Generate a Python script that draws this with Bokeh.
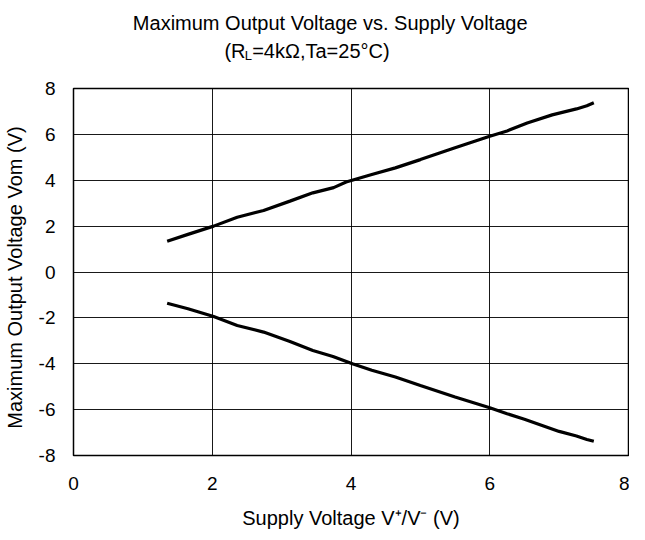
from bokeh.plotting import figure
from bokeh.layouts import column
from bokeh.models import Range1d, FixedTicker, PrintfTickFormatter
from bokeh.core.properties import value
from bokeh.embed import file_html
from bokeh.resources import INLINE

# Data
supply_upper = [1.35, 1.65, 2.02, 2.36, 2.74, 3.12, 3.45, 3.75, 3.93, 4.3, 4.64, 5.0, 5.5, 6.0, 6.25, 6.54, 6.9, 7.25, 7.4, 7.5]
vom_upper = [1.34, 1.64, 2.0, 2.39, 2.68, 3.09, 3.45, 3.68, 3.92, 4.25, 4.54, 4.9, 5.42, 5.92, 6.15, 6.5, 6.85, 7.11, 7.25, 7.38]
supply_lower = [1.35, 1.65, 2.02, 2.36, 2.74, 3.12, 3.45, 3.74, 4.02, 4.3, 4.64, 5.0, 5.5, 6.0, 6.25, 6.5, 7.0, 7.25, 7.4, 7.5]
vom_lower = [-1.36, -1.6, -1.94, -2.33, -2.62, -3.03, -3.42, -3.68, -4.0, -4.28, -4.58, -4.95, -5.45, -5.92, -6.18, -6.42, -6.95, -7.15, -7.3, -7.38]
x_ticks = [0, 2, 4, 6, 8]
y_ticks = [-8, -6, -4, -2, 0, 2, 4, 6, 8]

title_line1 = "Maximum Output Voltage vs. Supply Voltage"
title_line2 = ["(R", "L", "=4k\u03a9,Ta=25\u00b0C)"]

FONT = "Liberation Sans"
FS = "20px"
W = 629
TOP_H = 70

# ---- title strip (separate figure so text is not clipped; its frame aligns with the chart frame) ----
top = figure(width=W, height=TOP_H, output_backend="svg", toolbar_location=None,
             x_range=Range1d(0, 8), y_range=Range1d(0, TOP_H),
             x_axis_type=None, y_axis_type=None,
             min_border_left=0, min_border_right=0, min_border_top=0, min_border_bottom=0,
             outline_line_color=None, title=None)
top.grid.visible = False
common = dict(text_font=value(FONT), text_baseline="middle", text_color="black")
top.text(x=[3.70], y=[48], text=[title_line1], text_align="center",
         text_font_size=value(FS), **common)
top.text(x=[2.48], y=[20], text=[title_line2[0]], text_align="right",
         text_font_size=value(FS), **common)
top.text(x=[2.47], y=[15], text=[title_line2[1]], text_align="left",
         text_font_size=value("13px"), **common)
top.text(x=[2.575], y=[20], text=[title_line2[2]], text_align="left",
         text_font_size=value(FS), **common)

# ---- main chart ----
p = figure(width=W, height=462, output_backend="svg", toolbar_location=None,
           x_range=Range1d(0, 8), y_range=Range1d(-8, 8), title=None,
           min_border_left=66, min_border_right=1, min_border_top=18, min_border_bottom=77)
p.background_fill_color = "white"
p.border_fill_color = "white"
p.outline_line_color = "black"
p.outline_line_width = 1.5

for ax in (p.xaxis[0], p.yaxis[0]):
    ax.axis_line_color = None
    ax.major_tick_line_color = None
    ax.minor_tick_line_color = None
    ax.major_label_text_font = FONT
    ax.major_label_text_font_size = "19px"
    ax.major_label_text_color = "black"
    ax.axis_label_text_font = FONT
    ax.axis_label_text_font_size = FS
    ax.axis_label_text_font_style = "normal"
    ax.axis_label_text_color = "black"
    ax.formatter = PrintfTickFormatter(format="%d")

p.xaxis.ticker = FixedTicker(ticks=x_ticks)
p.yaxis.ticker = FixedTicker(ticks=y_ticks)
p.xaxis.major_label_standoff = 15
p.yaxis.major_label_standoff = 12
p.xaxis.axis_label = "Supply Voltage V\u207a/V\u207b (V)"
p.xaxis.axis_label_standoff = 14
p.yaxis.axis_label = "Maximum Output Voltage   Vom (V)"
p.yaxis.axis_label_standoff = 10

p.xgrid.ticker = FixedTicker(ticks=x_ticks)
p.ygrid.ticker = FixedTicker(ticks=y_ticks)
for g in (p.xgrid[0], p.ygrid[0]):
    g.grid_line_color = "black"
    g.grid_line_width = 1
    g.grid_line_alpha = 0.9

p.line(supply_upper, vom_upper, line_color="black", line_width=3.2)
p.line(supply_lower, vom_lower, line_color="black", line_width=3.2)

layout = column(top, p, spacing=0)
open("out.html", "w").write(file_html(layout, INLINE))
